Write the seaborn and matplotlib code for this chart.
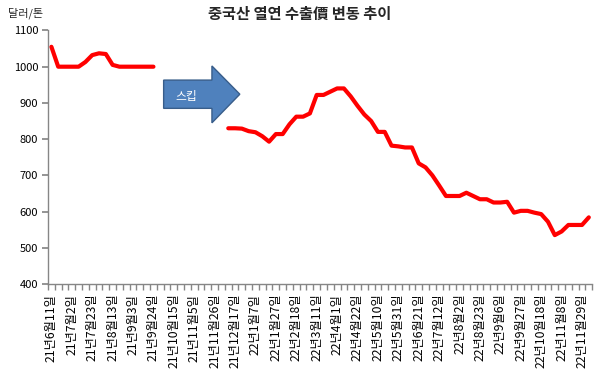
import numpy as np
import pandas as pd
import seaborn as sns
import matplotlib.pyplot as plt
from matplotlib.patches import Polygon

# 중국산 열연 수출가격 (달러/톤), 주간 데이터 / None = 스킵 구간
seg1 = [1055, 1000, 1000, 1000, 1000, 1013, 1032, 1037, 1035, 1005,
        1000, 1000, 1000, 1000, 1000, 1000]
gap = [None] * 10
seg2 = [830, 830, 829, 822, 819, 808, 793, 814, 814, 841,
        862, 862, 871, 922, 922, 931, 940, 940, 918, 892,
        868, 850, 820, 820, 782, 780, 777, 777, 733, 722,
        700, 672, 643, 643, 643, 652, 643, 634, 634, 625,
        625, 627, 597, 602, 602, 597, 593, 572, 535, 545,
        563, 563, 563, 584]
prices = seg1 + gap + seg2

# x축 라벨 (3주 간격으로 표시)
date_labels = ["21년6월11일", "21년7월2일", "21년7월23일", "21년8월13일", "21년9월3일",
               "21년9월24일", "21년10월15일", "21년11월5일", "21년11월26일", "21년12월17일",
               "22년1월7일", "22년1월27일", "22년2월18일", "22년3월11일", "22년4월1일",
               "22년4월22일", "22년5월10일", "22년5월31일", "22년6월21일", "22년7월12일",
               "22년8월2일", "22년8월23일", "22년9월6일", "22년9월27일", "22년10월18일",
               "22년11월8일", "22년11월29일"]

sns.set_theme(style="white")
plt.rcParams['font.family'] = ['Noto Sans CJK KR', 'DejaVu Sans']

df = pd.DataFrame({"idx": range(len(prices)), "price": prices})
df["price"] = df["price"].astype(float)
df["seg"] = df["price"].isna().cumsum()
df = df.dropna()

fig, ax = plt.subplots(figsize=(6, 3.81), dpi=100)
fig.subplots_adjust(left=0.08, right=0.987, bottom=0.2546, top=0.92)

sns.lineplot(data=df, x="idx", y="price", units="seg", estimator=None,
             color="red", linewidth=3, ax=ax,
             solid_capstyle="round", solid_joinstyle="round")

ax.set_xlim(-0.5, len(prices) - 0.5)
ax.set_ylim(400, 1100)
ax.set_yticks(range(400, 1101, 100))
ax.set_xticks(range(0, len(prices), 3))
ax.set_xticklabels(date_labels)
ax.set_xticks(np.arange(-0.5, len(prices), 1), minor=True)
ax.set_xlabel("")
ax.set_ylabel("")

gray = "#868686"
ax.tick_params(axis="x", which="major", length=0, pad=7, labelrotation=90,
               labelsize=8.8, labelcolor="black")
ax.tick_params(axis="x", which="minor", length=4, color=gray, direction="out", bottom=True)
ax.tick_params(axis="y", length=4, color=gray, direction="out", left=True,
               labelsize=8, labelcolor="black", pad=3)
for side in ["top", "right"]:
    ax.spines[side].set_visible(False)
for side in ["left", "bottom"]:
    ax.spines[side].set_color(gray)
    ax.spines[side].set_linewidth(1)

# 스킵 화살표
arrow = Polygon([(16.5, 963), (23.6, 963), (23.6, 1002), (27.7, 924),
                 (23.6, 845), (23.6, 885), (16.5, 885)],
                closed=True, facecolor="#4F81BD", edgecolor="#385D8A", linewidth=1)
ax.add_patch(arrow)
ax.text(19.9, 917, "스킵", color="white", fontsize=8.5, ha="center", va="center")

fig.text(0.5, 1 - 14 / 381, "중국산 열연 수출價 변동 추이", fontsize=11,
         fontweight="bold", ha="center", va="center")
fig.text(8 / 600, 1 - 13 / 381, "달러/톤", fontsize=8, ha="left", va="center")

fig.savefig("out.png", dpi=100)
